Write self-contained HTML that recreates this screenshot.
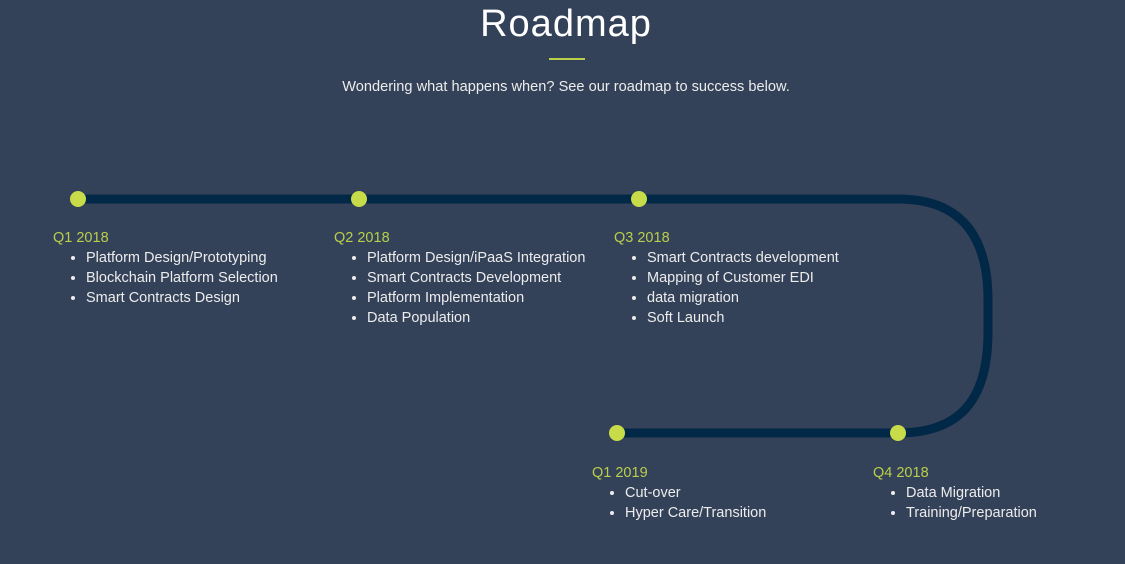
<!DOCTYPE html>
<html><head><meta charset="utf-8"><style>
body{margin:0;width:1125px;height:564px;background:#344259;font-family:"Liberation Sans",sans-serif;position:relative;overflow:hidden}
.t{position:absolute;left:0;width:1132px;text-align:center;color:#fff}
.blk{position:absolute;font-size:14.5px;line-height:20px}
.blk .q{color:#b9cf4a}
.blk ul{margin:0;padding:0 0 0 33px;color:#ececec}
.blk li{list-style:disc}
</style></head><body>
<div class="t" style="top:3px;font-size:38px;font-weight:400;letter-spacing:1px">Roadmap</div>
<div style="position:absolute;left:549px;top:58px;width:36px;height:2px;background:#b9cf4a"></div>
<div class="t" style="top:79px;font-size:14.6px;color:#ececec">Wondering what happens when? See our roadmap to success below.</div>
<svg width="1125" height="564" style="position:absolute;left:0;top:0">
<path d="M78,199 H898 C968,199 988,245 988,300 V332 C988,390 968,433 898,433 H617" fill="none" stroke="#022847" stroke-width="9"/>
<g fill="#c8dc4a"><circle cx="78" cy="199" r="8"/><circle cx="359" cy="199" r="8"/><circle cx="639" cy="199" r="8"/><circle cx="617" cy="433" r="8"/><circle cx="898" cy="433" r="8"/></g>
</svg>
<div class="blk" style="left:53px;top:228px"><div class="q">Q1 2018</div><ul><li>Platform Design/Prototyping</li><li>Blockchain Platform Selection</li><li>Smart Contracts Design</li></ul></div>
<div class="blk" style="left:334px;top:228px"><div class="q">Q2 2018</div><ul><li>Platform Design/iPaaS Integration</li><li>Smart Contracts Development</li><li>Platform Implementation</li><li>Data Population</li></ul></div>
<div class="blk" style="left:614px;top:228px"><div class="q">Q3 2018</div><ul><li>Smart Contracts development</li><li>Mapping of Customer EDI</li><li>data migration</li><li>Soft Launch</li></ul></div>
<div class="blk" style="left:592px;top:463px"><div class="q">Q1 2019</div><ul><li>Cut-over</li><li>Hyper Care/Transition</li></ul></div>
<div class="blk" style="left:873px;top:463px"><div class="q">Q4 2018</div><ul><li>Data Migration</li><li>Training/Preparation</li></ul></div>
</body></html>
